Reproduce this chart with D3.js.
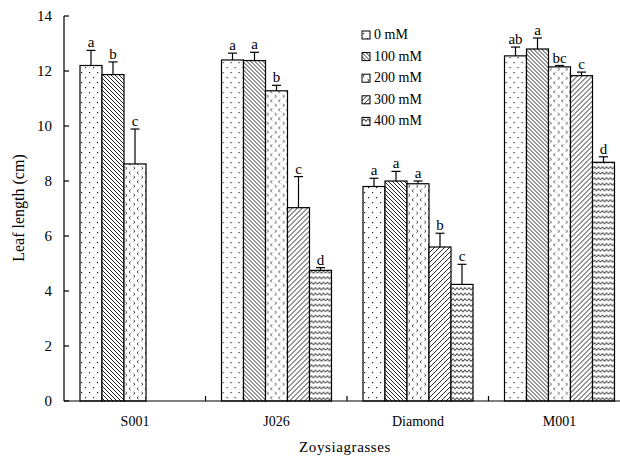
<!DOCTYPE html>
<html>
<head>
<meta charset="utf-8">
<script src="https://cdn.jsdelivr.net/npm/d3@7"></script>
<style>
  body { margin: 0; background: #fff; }
  text { font-family: "Liberation Serif", "Times New Roman", serif; fill: #000; }
</style>
</head>
<body>
<div id="chart"></div>
<script>
// Data
var groups = ["S001", "J026", "Diamond", "M001"];
var series = ["0 mM", "100 mM", "200 mM", "300 mM", "400 mM"];
var means = [
    [12.2, 11.87, 8.62, 0, 0],
    [12.4, 12.38, 11.28, 7.03, 4.75],
    [7.8, 8.0, 7.9, 5.6, 4.24],
    [12.55, 12.8, 12.15, 11.83, 8.68]
];
var errors = [
    [0.55, 0.46, 1.27, 0, 0],
    [0.25, 0.3, 0.2, 1.13, 0.1],
    [0.3, 0.35, 0.1, 0.5, 0.73],
    [0.32, 0.4, 0.05, 0.13, 0.2]
];
var letters = [
    ["a", "b", "c", "", ""],
    ["a", "a", "b", "c", "d"],
    ["a", "a", "a", "b", "c"],
    ["ab", "a", "bc", "c", "d"]
];
var yTicks = [0, 2, 4, 6, 8, 10, 12, 14];

var width = 620, height = 458;
var svg = d3.select("#chart").append("svg")
    .attr("width", width)
    .attr("height", height);

// Patterns for the five salt levels
var defs = svg.append("defs");
var patIds = ["p0", "p1", "p2", "p3", "p4"];

var p0 = defs.append("pattern").attr("id", "p0").attr("patternUnits", "userSpaceOnUse")
    .attr("width", 8).attr("height", 10);
p0.append("rect").attr("width", 8).attr("height", 10).attr("fill", "#fff");
p0.append("rect").attr("x", 1).attr("y", 2).attr("width", 1.2).attr("height", 1.2).attr("fill", "#222");
p0.append("rect").attr("x", 5).attr("y", 7).attr("width", 1.2).attr("height", 1.2).attr("fill", "#222");

var p1 = defs.append("pattern").attr("id", "p1").attr("patternUnits", "userSpaceOnUse")
    .attr("width", 4).attr("height", 4);
p1.append("rect").attr("width", 4).attr("height", 4).attr("fill", "#fff");
p1.append("path").attr("d", "M-1,-1 L5,5 M-1,3 L1,5 M3,-1 L5,1")
    .attr("stroke", "#111").attr("stroke-width", 0.9);

var p2 = defs.append("pattern").attr("id", "p2").attr("patternUnits", "userSpaceOnUse")
    .attr("width", 8).attr("height", 9);
p2.append("rect").attr("width", 8).attr("height", 9).attr("fill", "#fff");
p2.append("path").attr("d", "M2.5,0.5 L1,1.8 L2.5,3.1 M5.5,5 L7,6.3 L5.5,7.6")
    .attr("stroke", "#222").attr("stroke-width", 0.9).attr("fill", "none");

var p3 = defs.append("pattern").attr("id", "p3").attr("patternUnits", "userSpaceOnUse")
    .attr("width", 5).attr("height", 5);
p3.append("rect").attr("width", 5).attr("height", 5).attr("fill", "#fff");
p3.append("path").attr("d", "M-1,6 L6,-1 M-1,1 L1,-1 M4,6 L6,4")
    .attr("stroke", "#111").attr("stroke-width", 0.9);

var p4 = defs.append("pattern").attr("id", "p4").attr("patternUnits", "userSpaceOnUse")
    .attr("width", 8).attr("height", 5.5);
p4.append("rect").attr("width", 8).attr("height", 5.5).attr("fill", "#fff");
p4.append("path").attr("d", "M0,4 L2,1.5 L4,4 L6,1.5 L8,4")
    .attr("stroke", "#111").attr("stroke-width", 0.9).attr("fill", "none");

// Scales
var x0 = d3.scaleBand().domain(groups).range([64, 630]);
var x1 = d3.scaleBand().domain(series).range([16, 126]);
var y = d3.scaleLinear().domain([0, 14]).range([401, 16]);

// Bars
var g = svg.selectAll(".grp")
    .data(groups)
    .enter().append("g")
    .attr("transform", function(d) { return "translate(" + x0(d) + ",0)"; });

g.each(function(grp, gi) {
    var sel = d3.select(this);
    series.forEach(function(s, si) {
        var v = means[gi][si];
        var bx = x1(s), bw = x1.bandwidth();
        if (v > 0) {
            sel.append("rect")
                .attr("x", bx).attr("y", y(v))
                .attr("width", bw).attr("height", y(0) - y(v))
                .attr("fill", "url(#" + patIds[si] + ")")
                .attr("stroke", "#000").attr("stroke-width", 1.2);
            var e = errors[gi][si];
            var cx = bx + bw / 2;
            sel.append("line")
                .attr("x1", cx).attr("x2", cx)
                .attr("y1", y(v)).attr("y2", y(v + e))
                .attr("stroke", "#000").attr("stroke-width", 1.2);
            sel.append("line")
                .attr("x1", cx - 4.5).attr("x2", cx + 4.5)
                .attr("y1", y(v + e)).attr("y2", y(v + e))
                .attr("stroke", "#000").attr("stroke-width", 1.2);
            sel.append("text")
                .attr("x", cx).attr("y", y(v + e) - 3)
                .attr("text-anchor", "middle")
                .style("font-size", "15px")
                .text(letters[gi][si]);
        }
    });
});

// Axes
svg.append("line")
    .attr("x1", 64).attr("x2", 620).attr("y1", y(0)).attr("y2", y(0))
    .attr("stroke", "#000").attr("stroke-width", 1.2);
svg.append("line")
    .attr("x1", 64).attr("x2", 64).attr("y1", y(0)).attr("y2", y(14))
    .attr("stroke", "#000").attr("stroke-width", 1.2);

svg.selectAll(".ytick")
    .data(yTicks)
    .enter().append("line")
    .attr("x1", 64).attr("x2", 69)
    .attr("y1", function(d) { return y(d); })
    .attr("y2", function(d) { return y(d); })
    .attr("stroke", "#000").attr("stroke-width", 1.2);

svg.selectAll(".ylab")
    .data(yTicks)
    .enter().append("text")
    .attr("x", 52)
    .attr("y", function(d) { return y(d) + 5; })
    .attr("text-anchor", "end")
    .style("font-size", "15px")
    .text(function(d) { return d; });

// Category ticks between groups
svg.selectAll(".xtick")
    .data(groups.slice(1))
    .enter().append("line")
    .attr("x1", function(d) { return x0(d); })
    .attr("x2", function(d) { return x0(d); })
    .attr("y1", y(0)).attr("y2", y(0) - 5)
    .attr("stroke", "#000").attr("stroke-width", 1.2);

svg.selectAll(".xlab")
    .data(groups)
    .enter().append("text")
    .attr("x", function(d) { return x0(d) + 16 + 55; })
    .attr("y", 426)
    .attr("text-anchor", "middle")
    .style("font-size", "14px")
    .text(function(d) { return d; });

// Axis titles
svg.append("text")
    .attr("x", 345).attr("y", 452)
    .attr("text-anchor", "middle")
    .style("font-size", "15px")
    .style("letter-spacing", "0.6px")
    .text("Zoysiagrasses");

svg.append("text")
    .attr("transform", "translate(24,208) rotate(-90)")
    .attr("text-anchor", "middle")
    .style("font-size", "16px")
    .text("Leaf length (cm)");

// Legend
var legend = svg.selectAll(".leg")
    .data(series)
    .enter().append("g")
    .attr("transform", function(d, i) { return "translate(362," + (31 + i * 21.6) + ")"; });

legend.append("rect")
    .attr("width", 8).attr("height", 8)
    .attr("fill", function(d, i) { return "url(#" + patIds[i] + ")"; })
    .attr("stroke", "#000").attr("stroke-width", 1);

legend.append("text")
    .attr("x", 12).attr("y", 8)
    .style("font-size", "14px")
    .text(function(d) { return d; });
</script>
</body>
</html>
